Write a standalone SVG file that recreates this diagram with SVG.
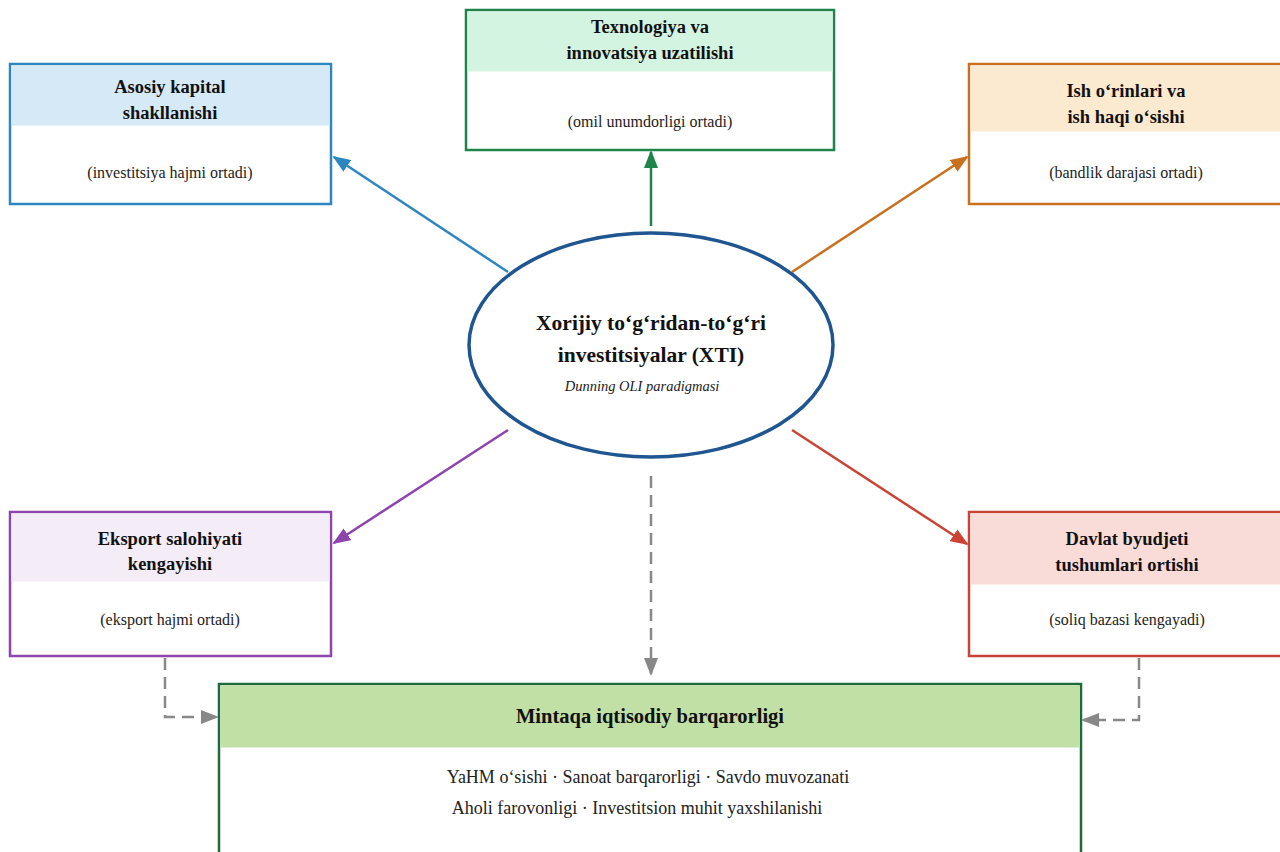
<svg xmlns="http://www.w3.org/2000/svg" width="1280" height="852" viewBox="0 0 1280 852">
<defs>
<style>
.t{font-family:"Liberation Serif","Times New Roman",serif;font-weight:bold;font-size:18.5px;fill:#111;text-anchor:middle}
.s{font-family:"Liberation Serif","Times New Roman",serif;font-size:16px;fill:#222;text-anchor:middle}
.box{fill:#fff;stroke-width:2.5}
.dash{fill:none;stroke:#888;stroke-width:2.5;stroke-dasharray:12,7}
</style>
<marker id="aBlue" markerWidth="18" markerHeight="14" refX="16" refY="7" orient="auto" markerUnits="userSpaceOnUse"><path d="M0,0 L18,7 L0,14 z" fill="#2e86c1"/></marker>
<marker id="aGreen" markerWidth="18" markerHeight="14" refX="16" refY="7" orient="auto" markerUnits="userSpaceOnUse"><path d="M0,0 L18,7 L0,14 z" fill="#1e8449"/></marker>
<marker id="aOrange" markerWidth="18" markerHeight="14" refX="16" refY="7" orient="auto" markerUnits="userSpaceOnUse"><path d="M0,0 L18,7 L0,14 z" fill="#ca6f1e"/></marker>
<marker id="aPurple" markerWidth="18" markerHeight="14" refX="16" refY="7" orient="auto" markerUnits="userSpaceOnUse"><path d="M0,0 L18,7 L0,14 z" fill="#8e44ad"/></marker>
<marker id="aRed" markerWidth="18" markerHeight="14" refX="16" refY="7" orient="auto" markerUnits="userSpaceOnUse"><path d="M0,0 L18,7 L0,14 z" fill="#cb4335"/></marker>
<marker id="aGray" markerWidth="18" markerHeight="14" refX="16" refY="7" orient="auto" markerUnits="userSpaceOnUse"><path d="M0,0 L18,7 L0,14 z" fill="#888"/></marker>
</defs>
<rect width="1280" height="852" fill="#fff"/>

<g id="connectors">
<line x1="508" y1="272" x2="334" y2="157" stroke="#2e86c1" stroke-width="2.5" marker-end="url(#aBlue)"/>
<line x1="651" y1="226" x2="651" y2="152" stroke="#1e8449" stroke-width="2.5" marker-end="url(#aGreen)"/>
<line x1="792" y1="272" x2="967" y2="157" stroke="#ca6f1e" stroke-width="2.5" marker-end="url(#aOrange)"/>
<line x1="508" y1="430" x2="334" y2="543" stroke="#8e44ad" stroke-width="2.5" marker-end="url(#aPurple)"/>
<line x1="792" y1="430" x2="967" y2="544" stroke="#cb4335" stroke-width="2.5" marker-end="url(#aRed)"/>
<path class="dash" d="M651,476 L651,674" marker-end="url(#aGray)"/>
<path class="dash" d="M165,658 L165,717 L217,717" marker-end="url(#aGray)"/>
<path class="dash" d="M1139,658 L1139,720 L1083,720" marker-end="url(#aGray)"/>
</g>

<g id="node-kapital">
<rect class="box" x="10" y="64" width="321" height="140" stroke="#2e86c1"/>
<rect x="11.5" y="65.5" width="318" height="60" fill="#d6e9f7"/>
<text class="t" x="170" y="93">Asosiy kapital</text>
<text class="t" x="170" y="119">shakllanishi</text>
<text class="s" x="170" y="178">(investitsiya hajmi ortadi)</text>
</g>

<g id="node-texnologiya">
<rect class="box" x="466" y="10" width="368" height="140" stroke="#1e8449"/>
<rect x="467.5" y="11.5" width="365" height="60" fill="#d4f4e2"/>
<text class="t" x="650" y="33">Texnologiya va</text>
<text class="t" x="650" y="59">innovatsiya uzatilishi</text>
<text class="s" x="650" y="127">(omil unumdorligi ortadi)</text>
</g>

<g id="node-ish">
<rect class="box" x="969" y="64" width="320" height="140" stroke="#ca6f1e"/>
<rect x="970.5" y="65.5" width="318" height="66" fill="#fbe9d0"/>
<text class="t" x="1126" y="97">Ish o‘rinlari va</text>
<text class="t" x="1126" y="123">ish haqi o‘sishi</text>
<text class="s" x="1126" y="178">(bandlik darajasi ortadi)</text>
</g>

<g id="node-xti">
<ellipse cx="651" cy="345" rx="182" ry="112" fill="#fff" stroke="#1f5590" stroke-width="3.5"/>
<text class="t" x="651" y="330" style="font-size:21.5px">Xorijiy to‘g‘ridan-to‘g‘ri</text>
<text class="t" x="651" y="362" style="font-size:21.5px">investitsiyalar (XTI)</text>
<text class="s" x="642" y="391" style="font-style:italic;font-size:14.5px">Dunning OLI paradigmasi</text>
</g>

<g id="node-eksport">
<rect class="box" x="10" y="512" width="321" height="144" stroke="#8e44ad"/>
<rect x="11.5" y="513.5" width="318" height="68" fill="#f4ecf7"/>
<text class="t" x="170" y="545">Eksport salohiyati</text>
<text class="t" x="170" y="570">kengayishi</text>
<text class="s" x="170" y="625">(eksport hajmi ortadi)</text>
</g>

<g id="node-davlat">
<rect class="box" x="969" y="512" width="320" height="144" stroke="#cb4335"/>
<rect x="970.5" y="513.5" width="318" height="71" fill="#f9dbd8"/>
<text class="t" x="1127" y="545">Davlat byudjeti</text>
<text class="t" x="1127" y="571">tushumlari ortishi</text>
<text class="s" x="1127" y="625">(soliq bazasi kengayadi)</text>
</g>

<g id="node-mintaqa">
<rect class="box" x="219" y="684" width="862" height="180" stroke="#1e6b3a"/>
<rect x="220.5" y="685.5" width="859" height="62" fill="#c0e0a5"/>
<text class="t" x="650" y="723" style="font-size:20.5px">Mintaqa iqtisodiy barqarorligi</text>
<text class="s" x="648" y="783" style="font-size:18px">YaHM o‘sishi · Sanoat barqarorligi · Savdo muvozanati</text>
<text class="s" x="637" y="814" style="font-size:18px">Aholi farovonligi · Investitsion muhit yaxshilanishi</text>
</g>
</svg>
